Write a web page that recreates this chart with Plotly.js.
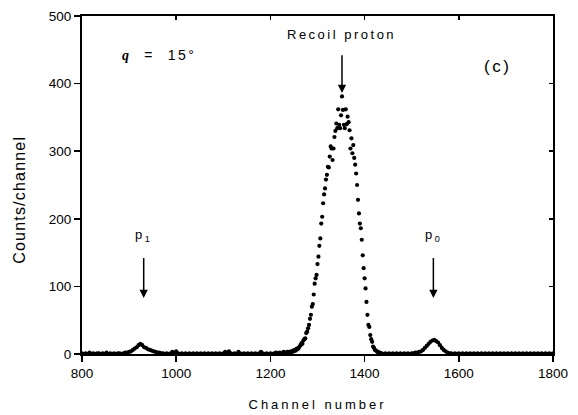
<!DOCTYPE html>
<html>
<head>
<meta charset="utf-8">
<script src="https://cdn.plot.ly/plotly-3.0.1.min.js"></script>
<style>
  html, body { margin: 0; padding: 0; background: #fff; }
  #chart { width: 578px; height: 415px; }
  .annotation-text { letter-spacing: 2.5px; }
  .annotation[data-index="0"] .annotation-text { letter-spacing: 3px; }
  .annotation[data-index="1"] .annotation-text { letter-spacing: 1.2px; }
</style>
</head>
<body>
<div id="chart"></div>
<script>
// ---- data ----
// baseline below the recoil peak (includes p1 group)
const chanLow = [
  800,804,808,812,816,820,824,828,832,836,
  840,844,848,852,856,860,864,868,872,876,
  880,884,888,892,896,900,904,908,912,916,
  920,924,928,932,936,940,944,948,952,956,
  960,964,968,972,976,980,984,988,992,996,
  1000,1004,1008,1012,1016,1020,1024,1028,1032,1036,
  1040,1044,1048,1052,1056,1060,1064,1068,1072,1076,
  1080,1084,1088,1092,1096,1100,1104,1108,1112,1116,
  1120,1124,1128,1132,1136,1140,1144,1148,1152,1156,
  1160,1164,1168,1172,1176,1180,1184,1188,1192,1196,
  1200,1204,1208,1212,1216,1220,1224,1228,1232,1236
];
const countsLow = [
  1,0,1,0,2,0,1,0,1,1,
  0,1,0,2,0,1,0,1,0,1,
  1,0,1,2,2,3,4,6,8,10,
  13,15,13,10,9,7,6,5,4,3,
  2,2,1,1,0,1,0,1,3,1,
  4,1,0,1,0,1,0,1,0,1,
  0,1,0,1,0,1,0,1,0,1,
  0,1,0,1,0,1,3,1,4,1,
  0,1,0,3,1,0,1,0,1,0,
  1,0,1,0,1,3,1,0,1,0,
  1,0,1,2,1,2,1,3,2,3
];
// recoil proton peak
const chanPeak = [
  1240,1242,1244,1246,1248,1250,1252,1254,1256,1258,
  1260,1262,1264,1266,1268,1270,1272,1274,1276,1278,
  1280,1282,1284,1286,1288,1290,1292,1294,1296,1298,
  1300,1302,1304,1306,1308,1310,1312,1314,1316,1318,
  1320,1322,1324,1326,1328,1330,1332,1334,1336,1338,
  1340,1342,1344,1346,1348,1350,1352,1354,1356,1358,
  1360,1362,1364,1366,1368,1370,1372,1374,1376,1378,
  1380,1382,1384,1386,1388,1390,1392,1394,1396,1398,
  1400,1402,1404,1406,1408,1410,1412,1414,1416,1418,
  1420,1422,1424,1426,1428,1430,1432,1434,1436,1438,
  1440
];
const countsPeak = [
  3,2,4,3,5,4,6,5,8,7,
  9,11,13,16,15,20,22,23,31,33,
  38,43,52,58,70,74,88,104,112,117,
  133,144,160,171,193,203,223,236,245,258,
  265,277,276,292,307,304,287,304,321,330,
  341,334,362,339,334,353,381,361,339,334,
  362,340,351,343,331,304,319,297,309,290,
  280,267,250,228,208,193,186,169,146,127,
  112,97,77,58,43,40,28,22,18,11,
  9,6,5,4,3,2,2,1,1,0,
  0
];
// baseline above the recoil peak (includes p0 group)
const chanHigh = [
  1444,1448,1452,1456,1460,1464,1468,1472,1476,1480,
  1484,1488,1492,1496,1500,1504,1508,1512,1516,1520,
  1524,1528,1532,1536,1540,1544,1548,1552,1556,1560,
  1564,1568,1572,1576,1580,1584,1588,1592,1596,1600,
  1604,1608,1612,1616,1620,1624,1628,1632,1636,1640,
  1644,1648,1652,1656,1660,1664,1668,1672,1676,1680,
  1684,1688,1692,1696,1700,1704,1708,1712,1716,1720,
  1724,1728,1732,1736,1740,1744,1748,1752,1756,1760,
  1764,1768,1772,1776,1780,1784,1788,1792,1796,1800
];
const countsHigh = [
  1,0,1,0,1,0,1,0,1,0,
  1,0,1,0,1,1,2,2,3,4,
  6,9,12,15,18,20,21,19,17,13,
  9,6,4,2,1,1,0,1,0,1,
  0,1,0,1,0,1,0,1,0,1,
  0,1,0,1,0,1,0,1,0,1,
  0,1,0,1,0,1,0,1,0,1,
  0,1,0,1,0,1,0,1,0,1,
  0,1,0,1,0,1,0,1,0,1
];
const xTicks = [800, 1000, 1200, 1400, 1600, 1800];
const yTicks = [0, 100, 200, 300, 400, 500];

const channels = chanLow.concat(chanPeak, chanHigh);
const counts = countsLow.concat(countsPeak, countsHigh);

const FONT = 'Liberation Sans, Arial, sans-serif';

const traces = [
  {
    x: channels, y: counts, type: 'scatter', mode: 'markers',
    marker: {color: '#000', size: 4.2},
    cliponaxis: false, hoverinfo: 'skip', showlegend: false
  },
  {
    x: channels, y: counts, type: 'scatter', mode: 'markers',
    xaxis: 'x2', yaxis: 'y2',
    marker: {color: '#000', size: 4, opacity: 0},
    hoverinfo: 'skip', showlegend: false
  }
];

const axisCommon = {
  showgrid: false, zeroline: false,
  linecolor: '#000', linewidth: 2,
  tickcolor: '#000', tickwidth: 1.5,
  tickfont: {family: FONT, size: 13.5, color: '#000'}
};

const arrowStyle = {showarrow: true, arrowhead: 2, arrowsize: 1.1, arrowwidth: 1.5,
                    arrowcolor: '#000', standoff: 0, axref: 'x', ayref: 'y'};

const layout = {
  width: 578, height: 415,
  margin: {l: 82, r: 25, t: 16, b: 61},
  paper_bgcolor: '#fff', plot_bgcolor: '#fff',
  font: {family: FONT, color: '#000'},
  showlegend: false,
  xaxis: Object.assign({}, axisCommon, {
    range: [800, 1800], tickmode: 'array', tickvals: xTicks,
    ticks: 'outside', ticklen: 6, mirror: true
  }),
  yaxis: Object.assign({}, axisCommon, {
    range: [0, 500], tickmode: 'array', tickvals: yTicks,
    ticks: 'outside', ticklen: 6, mirror: true
  }),
  xaxis2: {
    overlaying: 'x', side: 'top', anchor: 'y2', matches: 'x',
    range: [800, 1800], tickmode: 'array', tickvals: xTicks,
    ticks: 'inside', ticklen: 4, tickwidth: 1.5, tickcolor: '#000',
    showticklabels: false, showgrid: false, zeroline: false, showline: false
  },
  yaxis2: {
    overlaying: 'y', side: 'right', anchor: 'x2',
    range: [0, 500], tickmode: 'array', tickvals: yTicks,
    ticks: 'inside', ticklen: 4, tickwidth: 1.5, tickcolor: '#000',
    showticklabels: false, showgrid: false, zeroline: false, showline: false
  },
  annotations: [
    // axis titles
    {x: 0.5, y: -0.148, xref: 'paper', yref: 'paper', xanchor: 'center', yanchor: 'middle',
     text: 'Channel number', showarrow: false, font: {family: FONT, size: 13, color: '#000'}},
    {x: -0.1316, y: 0.456, xref: 'paper', yref: 'paper', xanchor: 'center', yanchor: 'middle',
     text: 'Counts/channel', textangle: -90, showarrow: false,
     font: {family: FONT, size: 16, color: '#000'}},
    // labels
    {x: 880, y: 442, xref: 'x', yref: 'y', xanchor: 'left', yanchor: 'middle',
     text: '<span style="font-family:Liberation Serif"><b><i>q</i></b></span>  =  15°',
     showarrow: false, font: {family: FONT, size: 14, color: '#000'}},
    {x: 1683, y: 425, xref: 'x', yref: 'y', xanchor: 'center', yanchor: 'middle',
     text: '(c)', showarrow: false, font: {family: FONT, size: 17, color: '#000'}},
    // labels with arrows
    Object.assign({x: 1352, y: 386, ax: 1352, ay: 473, xref: 'x', yref: 'y',
     text: 'Recoil proton', startstandoff: 12, font: {family: FONT, size: 13, color: '#000'}}, arrowStyle),
    Object.assign({x: 931, y: 83, ax: 931, ay: 176, xref: 'x', yref: 'y',
     text: 'p<sub>1</sub>', startstandoff: 13, font: {family: FONT, size: 13, color: '#000'}}, arrowStyle),
    Object.assign({x: 1546, y: 83, ax: 1546, ay: 176, xref: 'x', yref: 'y',
     text: 'p<sub>0</sub>', startstandoff: 13, font: {family: FONT, size: 13, color: '#000'}}, arrowStyle)
  ]
};

Plotly.newPlot('chart', traces, layout, {staticPlot: true, displayModeBar: false});
</script>
</body>
</html>
